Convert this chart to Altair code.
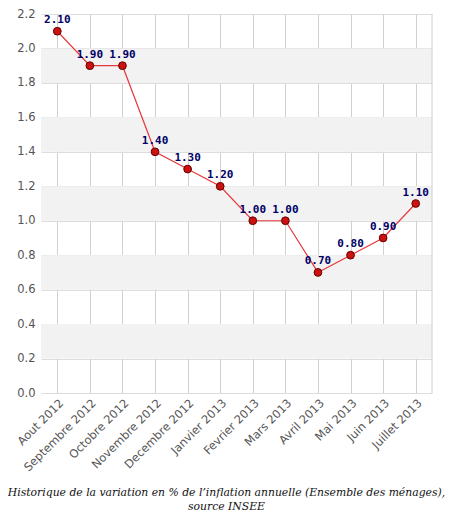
import altair as alt
import pandas as pd

months = ["Aout 2012", "Septembre 2012", "Octobre 2012", "Novembre 2012",
          "Decembre 2012", "Janvier 2013", "Fevrier 2013", "Mars 2013",
          "Avril 2013", "Mai 2013", "Juin 2013", "Juillet 2013"]
values = [2.10, 1.90, 1.90, 1.40, 1.30, 1.20, 1.00, 1.00, 0.70, 0.80, 0.90, 1.10]
y_ticks = [0, 0.2, 0.4, 0.6, 0.8, 1.0, 1.2, 1.4, 1.6, 1.8, 2.0, 2.2]
band_starts = [0.2, 0.6, 1.0, 1.4, 1.8]
band_ends = [0.4, 0.8, 1.2, 1.6, 2.0]
caption_line1 = "Historique de la variation en % de l\u2019inflation annuelle (Ensemble des ménages),"
caption_line2 = "source INSEE"

df = pd.DataFrame({"mois": months, "val": values})
bands = pd.DataFrame({"y0": band_starts, "y1": band_ends})
one = pd.DataFrame({"k": [0]})

W, H = 391, 379
yscale = alt.Scale(domain=[0, 2.2], nice=False, zero=True)
xscale = alt.Scale(domain=months, padding=0.5)

y_axis = alt.Axis(title=None, values=y_ticks, labelOverlap=False,
                  format=".1f", ticks=False, domain=False, grid=True,
                  gridColor="#dddddd", labelFont="DejaVu Sans", labelFontSize=11.5,
                  labelColor="#555555", labelPadding=6)

bg = alt.Chart(bands).mark_rect(color="#f2f2f2").encode(
    x=alt.value(0), x2=alt.value(W),
    y=alt.Y("y0:Q", scale=yscale, axis=y_axis), y2="y1:Q")

base = alt.Chart(df).encode(
    x=alt.X("mois:N", sort=months, scale=xscale,
            axis=alt.Axis(title=None, labelAngle=-45, labelAlign="right",
                          labelBaseline="top", ticks=False, domain=False,
                          grid=True, gridColor="#d0d0d0", labelFont="DejaVu Sans",
                          labelFontSize=11.5, labelColor="#555555", labelPadding=4,
                          labelOverlap=False, bandPosition=0.5)),
    y=alt.Y("val:Q", scale=yscale, axis=y_axis),
)

line = base.mark_line(color="#e8383d", strokeWidth=1.2)
pts = base.mark_point(shape="circle", filled=True, size=60, fill="#cc1111",
                      stroke="#660000", strokeWidth=1, opacity=1)
labels = base.mark_text(dy=-11, font="DejaVu Sans Mono", fontWeight="bold",
                        fontSize=11, color="#000066").encode(
    text=alt.Text("val:Q", format=".2f"))

right_rule = alt.Chart(one).mark_rule(color="#d0d0d0").encode(
    x=alt.value(W), y=alt.value(0), y2=alt.value(H))

cap1 = alt.Chart(one).mark_text(font="DejaVu Serif", fontStyle="italic",
                                fontSize=10.8, color="#111111").encode(
    x=alt.value(185.5), y=alt.value(H + 100), text=alt.value(caption_line1))
cap2 = alt.Chart(one).mark_text(font="DejaVu Serif", fontStyle="italic",
                                fontSize=10.8, color="#111111").encode(
    x=alt.value(185.5), y=alt.value(H + 114), text=alt.value(caption_line2))

chart = alt.layer(bg, line, pts, labels, right_rule, cap1, cap2).properties(
    width=W, height=H,
    autosize=alt.AutoSizeParams(type="none"),
    padding={"left": 33, "top": 6, "right": 13, "bottom": 125},
).configure_view(stroke=None).configure_axisY(labelOverlap=False)

chart.save("out.html", embed_options={"renderer": "svg", "actions": False})
